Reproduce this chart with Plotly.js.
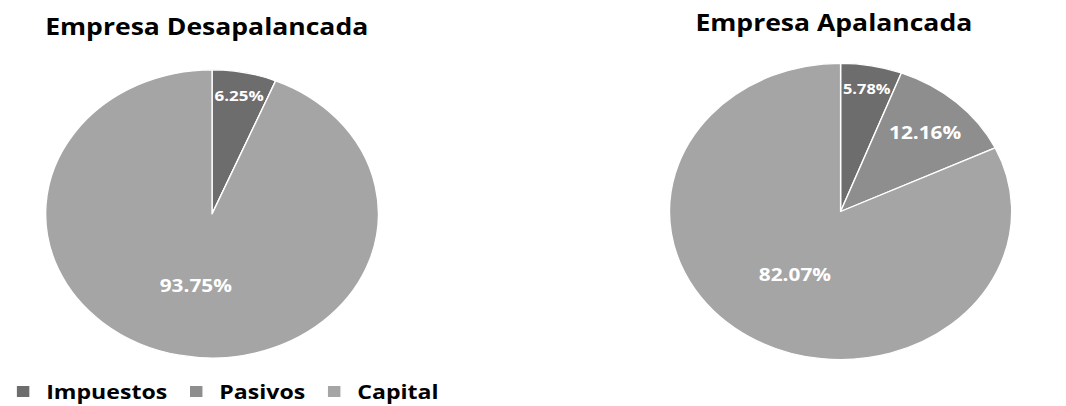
<!DOCTYPE html>
<html>
<head>
<meta charset="utf-8">
<script src="https://cdn.plot.ly/plotly-3.0.1.min.js"></script>
<style>
  html, body { margin: 0; padding: 0; background: #fff; overflow: hidden; }
  #wrap { width: 1066px; height: 406px; overflow: hidden; }
  #chart { width: 923px; height: 411px; transform: scaleX(1.155); transform-origin: 0 0; }
</style>
</head>
<body>
<div id="wrap"><div id="chart"></div></div>
<script>
// Data
const categories = ["Impuestos", "Pasivos", "Capital"];
const desapalancadaValues = [6.25, 0, 93.75];
const apalancadaValues = [5.78, 12.16, 82.07];
const chartTitles = ["Empresa Desapalancada", "Empresa Apalancada"];

const sliceColors = ["#6d6d6d", "#8e8e8e", "#a5a5a5"];
const FONT = "'Open Sans', 'Noto Sans', sans-serif";

function pieTrace(values, domain, legendId) {
  return {
    type: "pie",
    labels: categories,
    values: values,
    sort: false,
    direction: "clockwise",
    rotation: 0,
    domain: domain,
    legend: legendId,
    marker: { colors: sliceColors, line: { color: "#ffffff", width: 1.2 } },
    texttemplate: "%{value:.2f}%",
    textposition: "inside",
    insidetextorientation: "horizontal",
    textfont: { family: FONT, size: 18, color: "#ffffff", weight: "bold" },
    hoverinfo: "label+value",
    showlegend: true
  };
}

const data = [
  pieTrace(desapalancadaValues, { x: [0.0428, 0.355], y: [0.129, 0.830] }, "legend"),
  pieTrace(apalancadaValues, { x: [0.628, 0.949], y: [0.124, 0.847] }, "legend2")
];

const legendCommon = {
  orientation: "h",
  yanchor: "bottom",
  y: 0,
  xanchor: "left",
  font: { family: FONT, size: 20, color: "#000000", weight: "bold" },
  bgcolor: "rgba(0,0,0,0)",
  traceorder: "normal"
};

const layout = {
  width: 923,
  height: 411,
  margin: { l: 0, r: 0, t: 0, b: 0 },
  paper_bgcolor: "#ffffff",
  plot_bgcolor: "#ffffff",
  legend: Object.assign({}, legendCommon, { x: 0 }),
  legend2: Object.assign({}, legendCommon, { x: 0.594 }),
  annotations: [
    { text: chartTitles[0], x: 0.194, y: 0.936, xref: "paper", yref: "paper",
      xanchor: "center", yanchor: "middle", showarrow: false,
      font: { family: FONT, size: 23, color: "#000000", weight: "bold" } },
    { text: chartTitles[1], x: 0.782, y: 0.947, xref: "paper", yref: "paper",
      xanchor: "center", yanchor: "middle", showarrow: false,
      font: { family: FONT, size: 23, color: "#000000", weight: "bold" } }
  ]
};

Plotly.newPlot("chart", data, layout, { displayModeBar: false, staticPlot: true });
</script>
</body>
</html>
